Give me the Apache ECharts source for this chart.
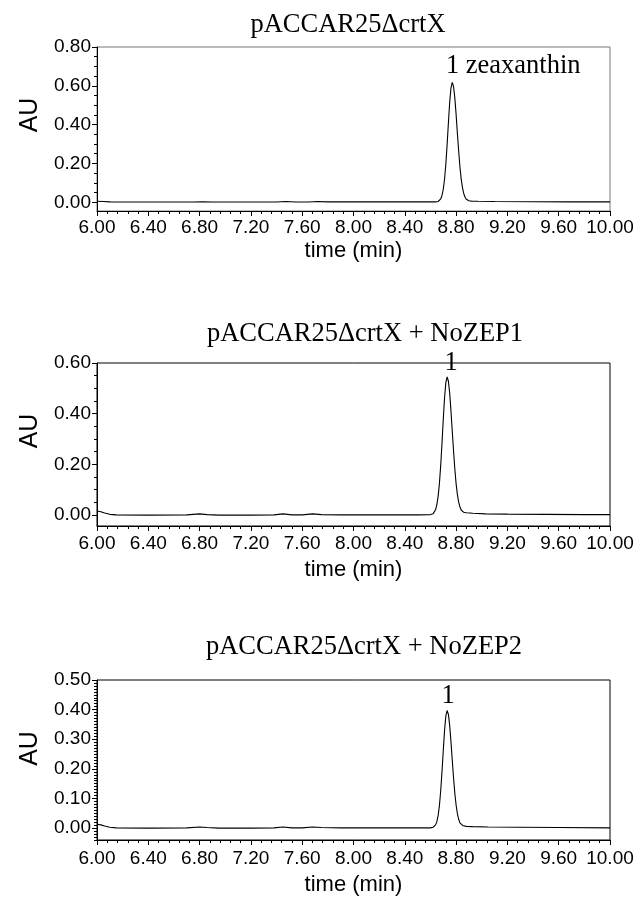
<!DOCTYPE html>
<html>
<head>
<meta charset="utf-8">
<script src="https://cdn.jsdelivr.net/npm/echarts@6/dist/echarts.min.js"></script>
<style>html,body{margin:0;padding:0;background:#fff}#c{width:638px;height:897px}</style>
</head>
<body>
<div id="c"></div>
<script>
// ---- data ----
var titles = ['pACCAR25\u0394crtX', 'pACCAR25\u0394crtX + NoZEP1', 'pACCAR25\u0394crtX + NoZEP2'];
var peakLabels = ['1 zeaxanthin', '1', '1'];
var xTickLabels = ['6.00','6.40','6.80','7.20','7.60','8.00','8.40','8.80','9.20','9.60','10.00'];
var yTicks1 = [0, 0.2, 0.4, 0.6, 0.8];
var yTicks2 = [0, 0.2, 0.4, 0.6];
var yTicks3 = [0, 0.1, 0.2, 0.3, 0.4, 0.5];

var t1 = [6.00,6.05,6.10,6.20,6.50,6.75,6.82,6.90,7.20,7.40,7.47,7.55,7.65,7.72,7.80,8.00,8.30,8.55,
  8.64,8.65,8.66,8.67,8.68,8.69,8.70,8.71,8.72,8.73,8.74,8.75,8.76,8.77,8.78,8.79,8.80,8.81,8.82,8.83,
  8.84,8.85,8.86,8.87,8.88,8.89,8.90,8.92,8.97,9.10,9.40,9.70,10.00];
var au1 = [0.005,0.004,0.002,0.001,0.001,0.001,0.003,0.001,0.001,0.001,0.004,0.001,0.001,0.004,0.002,0.002,0.002,0.002,
  0.002,0.003,0.004,0.008,0.017,0.035,0.067,0.120,0.196,0.297,0.409,0.515,0.590,0.618,0.597,0.538,0.453,0.355,0.264,0.182,
  0.118,0.074,0.044,0.026,0.015,0.010,0.008,0.006,0.005,0.004,0.003,0.002,0.002];

var t2 = [6.00,6.03,6.06,6.10,6.15,6.40,6.70,6.80,6.86,6.95,7.20,7.38,7.45,7.52,7.60,7.68,7.75,7.90,8.20,8.50,
  8.60,8.61,8.62,8.63,8.64,8.65,8.66,8.67,8.68,8.69,8.70,8.71,8.72,8.73,8.74,8.75,8.76,8.77,8.78,8.79,
  8.80,8.81,8.82,8.83,8.84,8.85,8.86,8.88,8.93,9.03,9.20,9.50,9.80,10.00];
var au2 = [0.016,0.013,0.008,0.003,0.001,0.000,0.001,0.005,0.002,0.000,0.000,0.001,0.005,0.001,0.001,0.005,0.002,0.001,0.001,0.001,
  0.002,0.003,0.005,0.010,0.021,0.041,0.075,0.125,0.196,0.284,0.378,0.463,0.523,0.545,0.528,0.481,0.411,0.331,0.254,0.182,
  0.124,0.081,0.051,0.032,0.020,0.014,0.011,0.009,0.007,0.005,0.004,0.003,0.002,0.002];

var t3 = [6.00,6.03,6.06,6.10,6.15,6.40,6.70,6.80,6.86,6.95,7.20,7.38,7.45,7.52,7.60,7.68,7.75,7.90,8.20,8.50,
  8.60,8.61,8.62,8.63,8.64,8.65,8.66,8.67,8.68,8.69,8.70,8.71,8.72,8.73,8.74,8.75,8.76,8.77,8.78,8.79,
  8.80,8.81,8.82,8.83,8.84,8.85,8.86,8.88,8.93,9.05,9.30,9.60,10.00];
var au3 = [0.013,0.011,0.007,0.003,0.001,0.000,0.001,0.004,0.002,0.000,0.000,0.001,0.004,0.001,0.001,0.004,0.002,0.001,0.001,0.001,
  0.001,0.002,0.003,0.005,0.011,0.022,0.043,0.076,0.127,0.191,0.262,0.330,0.379,0.397,0.384,0.346,0.292,0.230,0.170,0.118,
  0.078,0.049,0.030,0.018,0.012,0.009,0.007,0.006,0.005,0.004,0.003,0.002,0.001];

var peaks = [[8.77, 0.618], [8.73, 0.545], [8.73, 0.397]];

// ---- build ----
function zip(t, v) { return t.map(function (x, i) { return [x, v[i]]; }); }
function minorList(lo, hi, step) {
  var out = [];
  for (var k = Math.ceil(lo / step - 1e-9); k * step <= hi + 1e-9; k++) {
    out.push(+(k * step).toFixed(4));
  }
  return out;
}
var SANS = '"Liberation Sans", Arial, sans-serif';
var SERIF = '"Liberation Serif", "Times New Roman", serif';

var grids = [
  { left: 97, right: 28, top: 47, height: 164, borderColor: '#777' },
  { left: 97, right: 28, top: 363, height: 163, borderColor: '#000' },
  { left: 97, right: 28, top: 680, height: 160, borderColor: '#000' }
];
var yMin = [-0.045, -0.043, -0.04];
var yMax = [0.8, 0.6, 0.5];
var yTicks = [yTicks1, yTicks2, yTicks3];
var yMinorStep = [0.05, 0.05, 0.01];
var xLabelMargin = [7, 8, 9];
var xNameGap = [29, 33, 34];
var titleX = [348, 365, 364];
var titleTop = [12, 321, 634];
var auPad = [28, 27, 23];
var labelOffset = [[61, 0], [4, 0], [1, 0]];
var labelDist = [2, 0, 0];
var series = [zip(t1, au1), zip(t2, au2), zip(t3, au3)];

var option = {
  animation: false,
  backgroundColor: '#fff',
  title: titles.map(function (t, i) {
    return { text: t, left: titleX[i], top: titleTop[i], textAlign: 'center', padding: 0,
      textStyle: { fontFamily: SERIF, fontSize: 26.5, fontWeight: 'normal', color: '#000' } };
  }),
  grid: grids.map(function (g) {
    return { left: g.left, right: g.right, top: g.top, height: g.height, show: true,
      borderColor: g.borderColor, borderWidth: 1, backgroundColor: 'transparent' };
  }),
  xAxis: grids.map(function (g, i) {
    return {
      type: 'value', gridIndex: i, min: 6, max: 10, interval: 0.4,
      name: 'time (min)', nameLocation: 'middle', nameGap: xNameGap[i],
      nameTextStyle: { fontFamily: SANS, fontSize: 22, color: '#000' },
      axisLine: { show: true, onZero: false, lineStyle: { color: '#000', width: 1 } },
      axisTick: { show: true, inside: false, length: 5, lineStyle: { color: '#000' } },
      minorTick: { show: true, splitNumber: 5, length: 3, lineStyle: { color: '#000' } },
      splitLine: { show: false }, minorSplitLine: { show: false },
      axisLabel: { fontFamily: SANS, fontSize: 19, color: '#000', margin: xLabelMargin[i],
        formatter: function (v) { return xTickLabels[Math.round((v - 6) / 0.4)]; } }
    };
  }),
  yAxis: grids.map(function (g, i) {
    return {
      type: 'value', gridIndex: i, min: yMin[i], max: yMax[i],
      name: 'AU', nameLocation: 'middle', nameRotate: 90, nameGap: 54,
      nameTextStyle: { fontFamily: SANS, fontSize: 25, color: '#000', padding: [0, 0, 0, auPad[i]] },
      axisLine: { show: true, onZero: false, lineStyle: { color: '#000', width: 1 } },
      axisTick: { show: true, length: 5, customValues: yTicks[i], lineStyle: { color: '#000' } },
      splitLine: { show: false },
      axisLabel: { fontFamily: SANS, fontSize: 19, color: '#000', margin: 6, customValues: yTicks[i],
        formatter: function (v) { return v.toFixed(2); } }
    };
  }).concat(grids.map(function (g, i) {
    return {
      type: 'value', gridIndex: i, min: yMin[i], max: yMax[i], position: 'left',
      axisLine: { show: false },
      axisTick: { show: true, length: 3, customValues: minorList(yMin[i], yMax[i], yMinorStep[i]), lineStyle: { color: '#000' } },
      axisLabel: { show: false }, splitLine: { show: false }
    };
  })),
  series: series.map(function (d, i) {
    return {
      type: 'line', xAxisIndex: i, yAxisIndex: i, data: d, showSymbol: false, symbol: 'none',
      lineStyle: { color: '#000', width: 1.1 }, smooth: false,
      markPoint: {
        symbol: 'circle', symbolSize: 1, itemStyle: { color: 'rgba(0,0,0,0)' },
        data: [{ coord: peaks[i] }],
        label: { show: true, position: 'top', distance: labelDist[i], offset: labelOffset[i],
          formatter: peakLabels[i], fontFamily: SERIF, fontSize: 26.5, color: '#000' }
      }
    };
  })
};
var chart = echarts.init(document.getElementById('c'), null, { renderer: 'canvas' });
chart.setOption(option);
</script>
</body>
</html>
